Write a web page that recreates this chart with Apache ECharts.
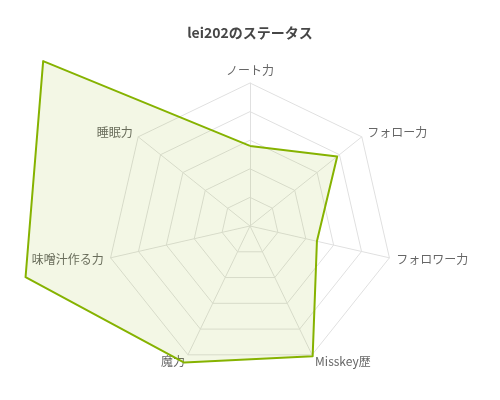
<!DOCTYPE html>
<html><head><meta charset="utf-8">
<script src="https://cdn.jsdelivr.net/npm/echarts@6/dist/echarts.min.js"></script>
<style>html,body{margin:0;padding:0;background:#fff}#c{width:500px;height:400px}</style>
</head><body><div id="c"></div>
<script>
// Indicators in ECharts order (counter-clockwise from top)
const indicatorNames = ['ノート力','睡眠力','味噌汁作る力','魔力','Misskey歴','フォロワー力','フォロー力'];
const indicatorMax = 100;
const statusValues = [56, 185, 161, 106, 101, 48, 78];
const titleText = 'lei202のステータス';

const chart = echarts.init(document.getElementById('c'));
chart.setOption({
  animation: false,
  title: {
    text: titleText, left: 'center', top: 21,
    textStyle: { fontSize: 14, fontWeight: 'bold', color: '#464646', fontFamily: 'Noto Sans CJK JP' }
  },
  radar: {
    center: [250, 226],
    radius: 143,
    splitNumber: 5,
    shape: 'polygon',
    indicator: indicatorNames.map(n => ({ name: n, max: indicatorMax, min: 0 })),
    axisName: { color: '#666', fontSize: 12, fontFamily: 'Noto Sans CJK JP' },
    nameGap: 7,
    splitLine: { lineStyle: { color: '#e0e0e0', width: 1 } },
    axisLine: { lineStyle: { color: '#e0e0e0', width: 1 } },
    splitArea: { show: false }
  },
  series: [{
    type: 'radar',
    symbol: 'none',
    data: [{
      value: statusValues,
      lineStyle: { color: '#86b300', width: 2 },
      areaStyle: { color: '#86b300', opacity: 0.1 }
    }]
  }]
});
</script></body></html>
